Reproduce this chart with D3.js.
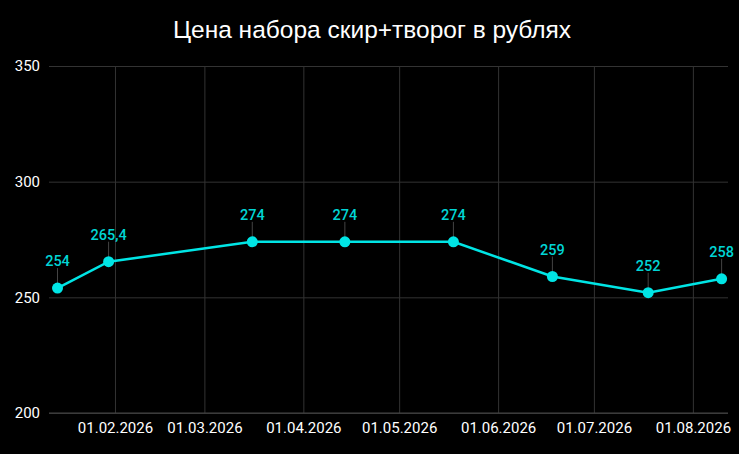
<!DOCTYPE html>
<html>
<head>
<meta charset="utf-8">
<script src="https://cdn.jsdelivr.net/npm/d3@7"></script>
<style>
  html, body { margin: 0; padding: 0; background: #000; }
  svg { display: block; font-family: Roboto, "Noto Sans", sans-serif; }
</style>
</head>
<body>
<div id="chart"></div>
<script>
// chart data
const title = "Цена набора скир+творог в рублях";
const dates = ["2026-01-14", "2026-01-30", "2026-03-16", "2026-04-14", "2026-05-18", "2026-06-18", "2026-07-18", "2026-08-10"];
const prices = [254, 265.4, 274, 274, 274, 259, 252, 258];
const xDomain = ["2026-01-11T08:00", "2026-08-12T00:00"];
const xTicks = ["2026-02-01", "2026-03-01", "2026-04-01", "2026-05-01", "2026-06-01", "2026-07-01", "2026-08-01"];
const yTicks = [200, 250, 300, 350];

const width = 739, height = 454;
const margin = { top: 66, right: 11, bottom: 41, left: 49 };
const parse = d3.isoParse;

const data = dates.map((d, i) => ({ date: parse(d), value: prices[i] }));

const svg = d3.select("#chart").append("svg")
  .attr("width", width)
  .attr("height", height);

svg.append("rect").attr("width", width).attr("height", height).attr("fill", "#000");

const x = d3.scaleTime()
  .domain(xDomain.map(parse))
  .range([margin.left, width - margin.right]);
const y = d3.scaleLinear()
  .domain([200, 350])
  .range([height - margin.bottom, margin.top]);

// title
svg.append("text")
  .attr("x", 372)
  .attr("y", 38)
  .attr("text-anchor", "middle")
  .attr("fill", "#fff")
  .style("font-family", "'Liberation Sans', Arial, sans-serif")
  .style("font-size", "24.5px")
  .text(title);

// horizontal grid + y labels
svg.append("g")
  .attr("transform", `translate(${margin.left},0)`)
  .call(d3.axisLeft(y).tickValues(yTicks).tickSize(-(width - margin.left - margin.right)).tickPadding(9))
  .call(g => g.select(".domain").remove())
  .call(g => g.selectAll(".tick line").attr("stroke", "#333").attr("stroke-width", 1))
  .call(g => g.selectAll(".tick text").attr("fill", "#fff").style("font-size", "15px").style("font-family", "Roboto, sans-serif"));

// vertical grid + x labels
svg.append("g")
  .attr("transform", `translate(0,${height - margin.bottom})`)
  .call(d3.axisBottom(x).tickValues(xTicks.map(parse)).tickSize(-(height - margin.top - margin.bottom)).tickPadding(9).tickFormat(d3.timeFormat("%d.%m.%Y")))
  .call(g => g.select(".domain").remove())
  .call(g => g.selectAll(".tick line").attr("stroke", "#333").attr("stroke-width", 1))
  .call(g => g.selectAll(".tick text").attr("fill", "#fff").style("font-size", "15px").style("font-family", "Roboto, sans-serif"));

// baseline at 200
svg.append("line")
  .attr("x1", margin.left).attr("x2", width - margin.right)
  .attr("y1", y(200)).attr("y2", y(200))
  .attr("stroke", "#444");

// line
svg.append("path")
  .datum(data)
  .attr("fill", "none")
  .attr("stroke", "#00e5e5")
  .attr("stroke-width", 2.5)
  .attr("d", d3.line().x(d => x(d.date)).y(d => y(d.value)));

// label connectors
svg.selectAll(".leader")
  .data(data)
  .enter()
  .append("line")
  .attr("x1", d => x(d.date)).attr("x2", d => x(d.date))
  .attr("y1", d => y(d.value) - 5).attr("y2", d => y(d.value) - 20)
  .attr("stroke", "#444")
  .attr("stroke-width", 1);

// points
svg.selectAll(".pt")
  .data(data)
  .enter()
  .append("circle")
  .attr("cx", d => x(d.date))
  .attr("cy", d => y(d.value))
  .attr("r", 5.5)
  .attr("fill", "#00e5e5");

// value labels
svg.selectAll(".lbl")
  .data(data)
  .enter()
  .append("text")
  .attr("x", d => x(d.date))
  .attr("y", d => y(d.value) - 22)
  .attr("text-anchor", "middle")
  .attr("fill", "#00d5d5")
  .style("font-size", "14.5px")
  .style("font-weight", 500)
  .text(d => String(d.value).replace(".", ","));
</script>
</body>
</html>
